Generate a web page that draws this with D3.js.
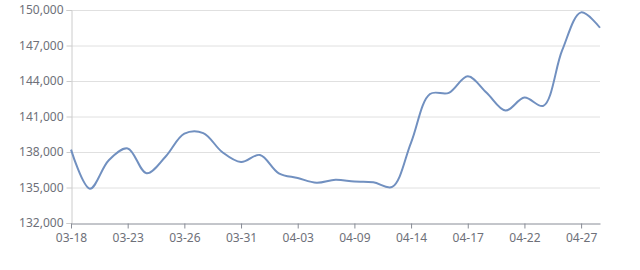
<!DOCTYPE html>
<html>
<head>
<meta charset="utf-8">
<script src="https://cdn.jsdelivr.net/npm/d3@7"></script>
<style>
  html, body { margin: 0; padding: 0; background: #fff; }
  svg { display: block; font-family: "Noto Sans", "DejaVu Sans", sans-serif; }
</style>
</head>
<body>
<svg id="chart" width="640" height="270"></svg>
<script>
// trading days shown on the category axis (every 3rd one is labelled)
const dates = ["03-18","03-19","03-20","03-23","03-24","03-25","03-26","03-27","03-30","03-31",
  "04-01","04-02","04-03","04-07","04-08","04-09","04-10","04-13","04-14","04-15",
  "04-16","04-17","04-20","04-21","04-22","04-23","04-24","04-27","04-28"];
const prices = [138200,134900,137300,138300,136200,137600,139550,139600,138000,137150,
  137750,136200,135800,135400,135650,135500,135450,135050,138800,142900,
  143000,144400,143000,141500,142600,141900,146600,149800,148500];
const yTicks = [132000,135000,138000,141000,144000,147000,150000];

const margin = {top: 10, right: 40, bottom: 47, left: 71};
const width = 640, height = 270;

const svg = d3.select("#chart");

const x = d3.scalePoint()
  .domain(dates)
  .range([margin.left, width - margin.right]);

const y = d3.scaleLinear()
  .domain([132000, 150000])
  .range([height - margin.bottom, margin.top]);

// grid lines
svg.append("g")
  .selectAll("line")
  .data(yTicks.slice(1))
  .join("line")
  .attr("x1", margin.left)
  .attr("x2", width - margin.right)
  .attr("y1", d => y(d) + 0.5)
  .attr("y2", d => y(d) + 0.5)
  .attr("stroke", "#e0e0e0")
  .attr("stroke-width", 1);

// y axis
const yAxis = svg.append("g")
  .attr("transform", `translate(${margin.left + 0.5},0)`)
  .call(d3.axisLeft(y).tickValues(yTicks).tickSize(5).tickPadding(3).tickFormat(d3.format(",")));
yAxis.select(".domain").attr("stroke", "#cccccc");
yAxis.selectAll(".tick line").attr("stroke", "#cccccc");
yAxis.selectAll("text").attr("fill", "#6e7079").attr("font-size", 12)
  .attr("font-family", "\"Noto Sans\", sans-serif");

// x axis
const labelled = dates.filter((d, i) => i % 3 === 0 && i < 28);
const xAxis = svg.append("g")
  .attr("transform", `translate(0,${height - margin.bottom + 0.5})`)
  .call(d3.axisBottom(x).tickValues(labelled).tickSize(5).tickSizeOuter(0).tickPadding(5));
xAxis.select(".domain").attr("stroke", "#888c96");
xAxis.selectAll(".tick line").attr("stroke", "#888c96");
xAxis.selectAll("text").attr("fill", "#6e7079").attr("font-size", 12)
  .attr("font-family", "\"Noto Sans\", sans-serif");

// price line
const line = d3.line()
  .x((d, i) => x(dates[i]))
  .y(d => y(d))
  .curve(d3.curveCatmullRom.alpha(0.5));

svg.append("path")
  .datum(prices)
  .attr("fill", "none")
  .attr("stroke", "#7190c0")
  .attr("stroke-width", 2)
  .attr("stroke-linejoin", "round")
  .attr("d", line);
</script>
</body>
</html>
